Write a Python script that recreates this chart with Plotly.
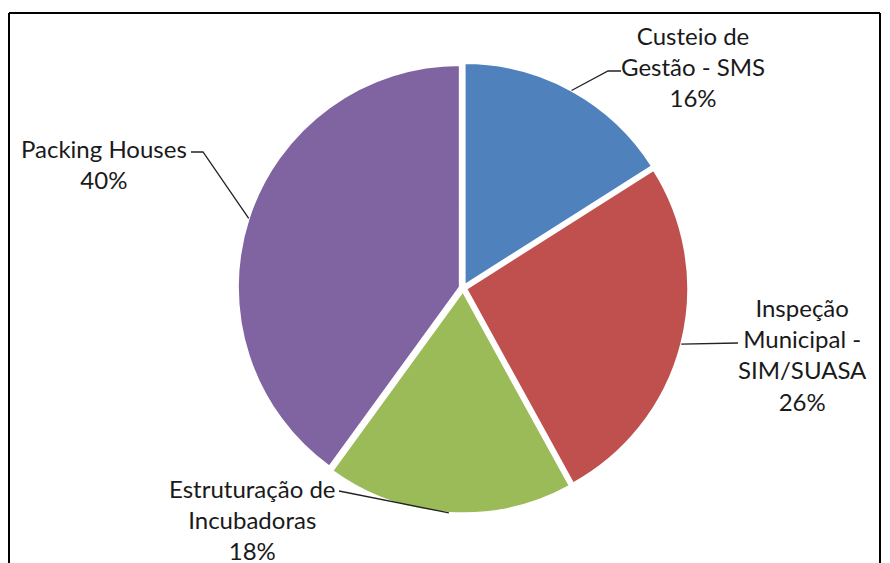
import math
import plotly.graph_objects as go

# ---- data ----
categories = ["Custeio de Gestão - SMS", "Inspeção Municipal - SIM/SUASA",
              "Estruturação de Incubadoras", "Packing Houses"]
label_lines = [["Custeio de", "Gestão - SMS"],
               ["Inspeção", "Municipal -", "SIM/SUASA"],
               ["Estruturação de", "Incubadoras"],
               ["Packing Houses"]]
values = [16, 26, 18, 40]
colors = ["#4F81BD", "#C0504D", "#9BBB59", "#8064A2"]

W, H = 890, 563
CX, CY, R = 463, 288, 222   # pie centre / radius in pixels
PULL = 0.015

# label text centres (px) and leader line text-side points (px)
label_centre = [(693, 66), (802, 355), (252, 519), (104, 164)]
leader_text = [[(621, 71), (608, 71)],
               [(738, 343)],
               [(339, 491)],
               [(191, 152), (203, 152)]]

def px(x, y):
    return x / W, 1 - y / H

half = R * (1 + PULL)
x0, y1 = px(CX - half, CY - half)
x1, y0 = px(CX + half, CY + half)

fig = go.Figure(go.Pie(
    labels=categories, values=values, sort=False, direction="clockwise",
    rotation=0, textinfo="none", hoverinfo="label+percent",
    marker=dict(colors=colors, line=dict(color="white", width=2)),
    pull=[PULL] * len(values), showlegend=False,
    domain=dict(x=[x0, x1], y=[y0, y1]),
))

total = sum(values)
cum = 0
shapes = []
annotations = []
for i, v in enumerate(values):
    mid = (cum + v / 2) / total * 2 * math.pi
    cum += v
    r = R * (1 + PULL)
    sx = CX + r * math.sin(mid)
    sy = CY - r * math.cos(mid)
    pts = leader_text[i] + [(sx, sy)]
    path = "M " + " L ".join(f"{px(a, b)[0]:.5f},{px(a, b)[1]:.5f}" for a, b in pts)
    shapes.append(dict(type="path", xref="paper", yref="paper", path=path,
                       line=dict(color="#222222", width=1.3)))
    pct = f"{round(v / total * 100)}%"
    text = "<br>".join(label_lines[i] + [pct])
    lx, ly = px(*label_centre[i])
    annotations.append(dict(x=lx, y=ly, xref="paper", yref="paper", text=text,
                            showarrow=False, xanchor="center", yanchor="middle",
                            align="center",
                            font=dict(family="Lato", size=24, color="#1a1a1a")))

# frame around chart
for a, b in [((9, 13), (880, 13)), ((9, 13), (9, 563)), ((880, 13), (880, 563))]:
    p0, p1 = px(*a), px(*b)
    shapes.append(dict(type="line", xref="paper", yref="paper",
                       x0=p0[0], y0=p0[1], x1=p1[0], y1=p1[1],
                       line=dict(color="black", width=2)))

fig.update_layout(width=W, height=H, margin=dict(l=0, r=0, t=0, b=0),
                  paper_bgcolor="white", plot_bgcolor="white",
                  shapes=shapes, annotations=annotations)
fig.write_html("out.html")
